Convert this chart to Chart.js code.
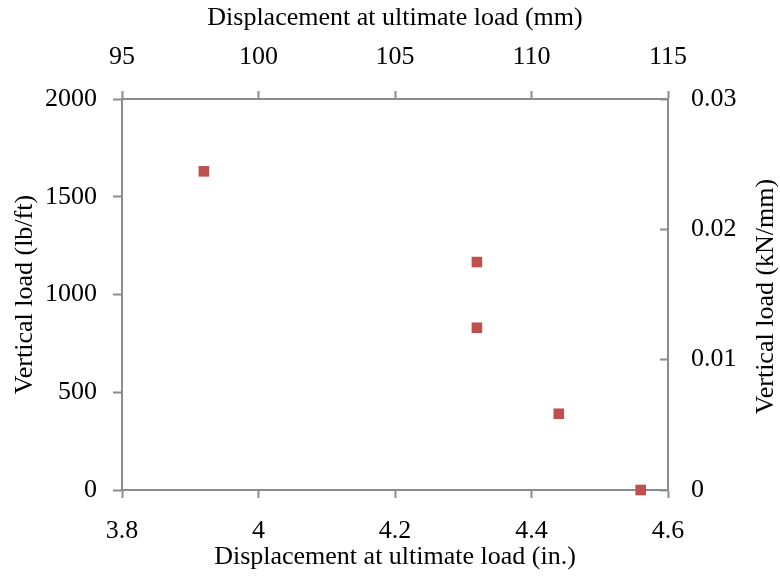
<!DOCTYPE html>
<html>
<head>
<meta charset="utf-8">
<script src="https://cdn.jsdelivr.net/npm/chart.js@4.4.0/dist/chart.umd.min.js"></script>
<style>
  body { margin: 0; background: #fff; }
  #wrap { width: 780px; height: 581px; }
</style>
</head>
<body>
<div id="wrap"><canvas id="loadChart" width="780" height="581"></canvas></div>
<script>
// displacement at ultimate load (in.) vs vertical load (lb/ft)
const dispIn = [3.92, 4.32, 4.32, 4.44, 4.56];
const loadLbFt = [1630, 1166, 830, 390, 0];

// axis ticks (primary = imperial, secondary = metric)
const inTicks = [3.8, 4.0, 4.2, 4.4, 4.6];
const mmTicks = [95, 100, 105, 110, 115];
const lbTicks = [0, 500, 1000, 1500, 2000];
const kNTicks = [0, 0.01, 0.02, 0.03];

const FONT = 'Liberation Serif, Times New Roman, serif';
const AXIS_GREY = '#8c8c8c';

function fixedTicks(list) {
  return scale => { scale.ticks = list.map(v => ({ value: v })); };
}

function axis(pos, list, size, tickLen, pad, title, titlePad) {
  const horiz = pos === 'top' || pos === 'bottom';
  return {
    type: 'linear',
    position: pos,
    min: list[0],
    max: list[list.length - 1],
    afterBuildTicks: fixedTicks(list),
    afterFit: s => { if (horiz) s.height = size; else s.width = size; },
    grid: {
      drawOnChartArea: false,
      drawTicks: true,
      tickLength: tickLen,
      tickWidth: 2,
      tickColor: AXIS_GREY
    },
    border: { display: true, color: AXIS_GREY, width: 2 },
    ticks: {
      padding: pad,
      color: '#000',
      font: { family: FONT, size: 26 },
      maxRotation: 0,
      autoSkip: false,
      callback: v => String(v)
    },
    title: {
      display: !!title,
      text: title || '',
      color: '#000',
      font: { family: FONT, size: 26 },
      padding: titlePad
    }
  };
}

// right-hand title reads bottom-to-top like the left one
const rightTitle = {
  id: 'rightTitle',
  afterDraw(chart) {
    const { ctx, chartArea } = chart;
    ctx.save();
    ctx.translate(766, (chartArea.top + chartArea.bottom) / 2 + 2);
    ctx.rotate(-Math.PI / 2);
    ctx.font = '26px ' + FONT;
    ctx.fillStyle = '#000';
    ctx.textAlign = 'center';
    ctx.textBaseline = 'middle';
    ctx.fillText('Vertical load (kN/mm)', 0, 0);
    ctx.restore();
  }
};

new Chart(document.getElementById('loadChart'), {
  type: 'scatter',
  data: {
    datasets: [{
      data: dispIn.map((x, i) => ({ x, y: loadLbFt[i] })),
      xAxisID: 'x',
      yAxisID: 'y',
      backgroundColor: '#c0504d',
      borderColor: '#c0504d',
      borderWidth: 0,
      pointStyle: 'rect',
      pointRadius: 7.5,
      clip: false
    }]
  },
  options: {
    responsive: false,
    animation: false,
    layout: { padding: 0 },
    plugins: { legend: { display: false }, tooltip: { enabled: false } },
    scales: {
      x: axis('bottom', inTicks, 91, 8, 18, 'Displacement at ultimate load (in.)', { top: 0, bottom: 8 }),
      x2: axis('top', mmTicks, 99, 8, 18, 'Displacement at ultimate load (mm)', { top: 3, bottom: 0 }),
      y: axis('left', lbTicks, 122, 9, 16, 'Vertical load (lb/ft)', { top: 10, bottom: 0 }),
      y2: axis('right', kNTicks, 112, -8, 31, null, 0)
    }
  },
  plugins: [rightTitle]
});
</script>
</body>
</html>
